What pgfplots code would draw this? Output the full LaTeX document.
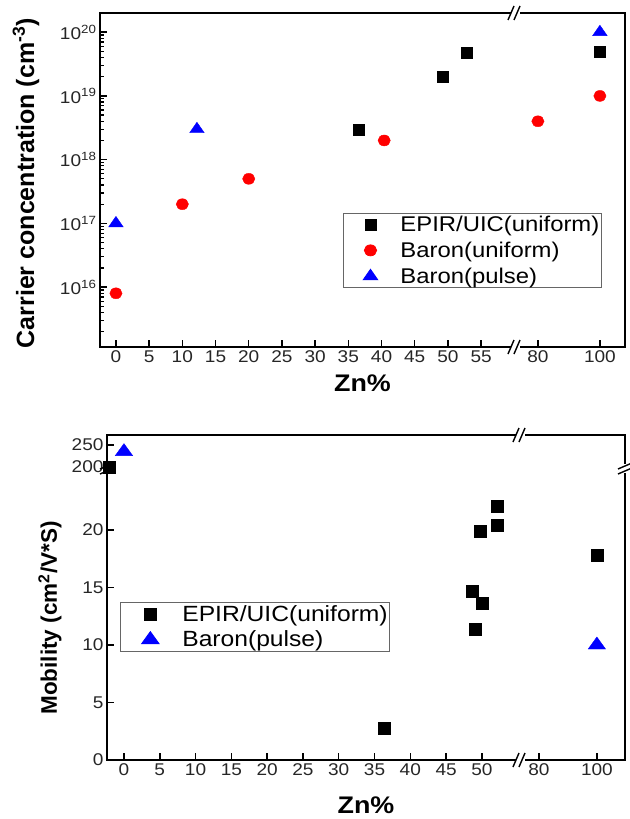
\documentclass[border=0pt]{standalone}
\usepackage{pgfplots}
\pgfplotsset{compat=1.18}
\usepackage{fontspec}
\setmainfont{Liberation Sans}[FakeStretch=1.12]
\newfontfamily\plainfont{Liberation Sans}

\newcommand{\xbrk}[2]{%
  \fill[white] (#1,#2) ++(-4.5pt,-3pt) rectangle ++(9pt,6pt);
  \draw[line width=1.4pt] (#1,#2) ++(-7pt,-7pt) -- ++(6pt,14pt);
  \draw[line width=1.4pt] (#1,#2) ++(-1pt,-7pt) -- ++(6pt,14pt);
}
\newcommand{\ybrk}[2]{%
  \fill[white] (#1,#2) ++(-3pt,-4.5pt) rectangle ++(6pt,9pt);
  \draw[line width=1.4pt] (#1,#2) ++(-7pt,-6pt) -- ++(14pt,6pt);
  \draw[line width=1.4pt] (#1,#2) ++(-7pt,-1pt) -- ++(14pt,6pt);
}

\pgfplotsset{
  common/.style={
    scale only axis,
    axis line style={line width=2pt},
    xtick pos=bottom, ytick pos=left,
    tick align=inside,
    major tick length=7pt, minor tick length=4.5pt,
    major tick style={line width=1.5pt, black},
    minor tick style={line width=1.2pt, black},
    tick label style={font=\fontsize{17}{20}\selectfont, text=black!85},
    xlabel style={font=\bfseries\fontsize{24}{28}\selectfont},
    legend cell align=left,
    only marks,
  },
}

\begin{document}
\begin{tikzpicture}
\path[use as bounding box] (0,0) rectangle (629pt,-819pt);

% ---------------- top panel ----------------
\begin{axis}[common,
  at={(100pt,-347pt)}, anchor=south west,
  width=525pt, height=334pt,
  x coord trafo/.code={\pgfmathparse{(#1>60)?(63.55+(#1-80)*0.4669):(#1)}},
  xmin=-2.4, xmax=108.1,
  xtick={0,5,10,15,20,25,30,35,40,45,50,55,80,100},
  xticklabels={0,5,10,15,20,25,30,35,40,45,50,55,80,100},
  minor x tick num=1,
  ymode=log, ymin=1.15e15, ymax=2e20,
  ytick={1e16,1e17,1e18,1e19,1e20},
  yticklabels={10\textsuperscript{16},10\textsuperscript{17},10\textsuperscript{18},10\textsuperscript{19},10\textsuperscript{20}},
  minor ytick={2e15,3e15,4e15,5e15,6e15,7e15,8e15,9e15,
               2e16,3e16,4e16,5e16,6e16,7e16,8e16,9e16,
               2e17,3e17,4e17,5e17,6e17,7e17,8e17,9e17,
               2e18,3e18,4e18,5e18,6e18,7e18,8e18,9e18,
               2e19,3e19,4e19,5e19,6e19,7e19,8e19,9e19},
  xlabel={Zn\%},
  xlabel style={at={(axis description cs:0.5,-0.108)}, anchor=center},
  ylabel={Carrier concentration (cm\textsuperscript{-3})},
  ylabel style={font=\plainfont\bfseries\fontsize{25}{28}\selectfont,
    at={(axis description cs:-0.141,0.49)}, anchor=center},
  legend image code/.code={\path[draw=none,fill=none] (0pt,0pt) -- (55pt,0pt); \draw[#1] plot coordinates {(25pt,0pt)};},
  legend style={at={(0.463,0.401)}, anchor=north west,
    font=\fontsize{21.3}{24}\selectfont, draw=black!60, line width=0.8pt,
    inner xsep=2pt, inner ysep=2.5pt, nodes={inner sep=0pt},
    row sep=9pt},
]
\addplot[mark=square*, mark size=5.5pt, black] coordinates {
  (36.6,3e18) (49.2,2e19) (52.9,4.7e19) (100,5e19)};
\addlegendentry{EPIR/UIC(uniform)}
\addplot[mark=*, mark size=5.5pt, red, mark options={xscale=1.12}] coordinates {
  (0,8e15) (10,2e17) (20,5e17) (40.4,2e18) (80,4e18) (100,1e19)};
\addlegendentry{Baron(uniform)}
\addplot[mark=triangle*, mark size=7pt, blue, mark options={xscale=1.2}] coordinates {
  (0,1e17) (12.2,3e18) (100,1e20)};
\addlegendentry{Baron(pulse)}
\end{axis}

% ---------------- bottom panel ----------------
\begin{axis}[common,
  at={(107pt,-760pt)}, anchor=south west,
  width=518pt, height=325pt,
  clip=false,
  x coord trafo/.code={\pgfmathparse{(#1>60)?(57.96+(#1-80)*0.405):(#1)}},
  xmin=-2.37, xmax=109.7,
  xtick={0,5,10,15,20,25,30,35,40,45,50,80,100},
  xticklabels={0,5,10,15,20,25,30,35,40,45,50,80,100},
  minor x tick num=1,
  y coord trafo/.code={\pgfmathparse{(#1>100)?(25.48+(#1-200)*0.0382):(#1)}},
  ymin=0, ymax=272.8,
  ytick={0,5,10,15,20,200,250},
  yticklabels={0,5,10,15,20,200,250},
  minor y tick num=1,
  xlabel={Zn\%},
  xlabel style={at={(axis description cs:0.5,-0.138)}, anchor=center},
  ylabel={Mobility (cm\textsuperscript{2}/V*S)},
  ylabel style={font=\plainfont\bfseries\fontsize{22.5}{26}\selectfont,
    at={(axis description cs:-0.110,0.437)}, anchor=center},
  legend image code/.code={\path[draw=none,fill=none] (0pt,0pt) -- (60pt,0pt); \draw[#1] plot coordinates {(28pt,0pt)};},
  legend style={at={(0.025,0.486)}, anchor=north west,
    font=\fontsize{22}{24}\selectfont, draw=black!60, line width=0.8pt,
    inner xsep=2pt, inner ysep=3pt, nodes={inner sep=0pt},
    row sep=8pt},
]
\addplot[mark=square*, mark size=6pt, black] coordinates {
  (-2,200) (36.3,2.8) (48.7,14.7) (50,13.6) (49,11.4) (49.7,19.9)
  (52.2,20.4) (52.2,22.1) (100,17.8)};
\addlegendentry{EPIR/UIC(uniform)}
\addplot[mark=triangle*, mark size=8pt, blue, mark options={xscale=1.25}] coordinates {
  (0,235) (100,10.0)};
\addlegendentry{Baron(pulse)}
\end{axis}

% break marks
\xbrk{515pt}{-347pt}
\xbrk{515pt}{-13pt}
\xbrk{520pt}{-760pt}
\xbrk{520pt}{-435pt}
\draw[line width=1.4pt] (107pt,-468pt) ++(-7pt,-6pt) -- ++(14pt,6pt);
\draw[line width=1.4pt] (107pt,-468pt) ++(-7pt,-1pt) -- ++(14pt,6pt);
\ybrk{625pt}{-468pt}
\end{tikzpicture}
\end{document}
